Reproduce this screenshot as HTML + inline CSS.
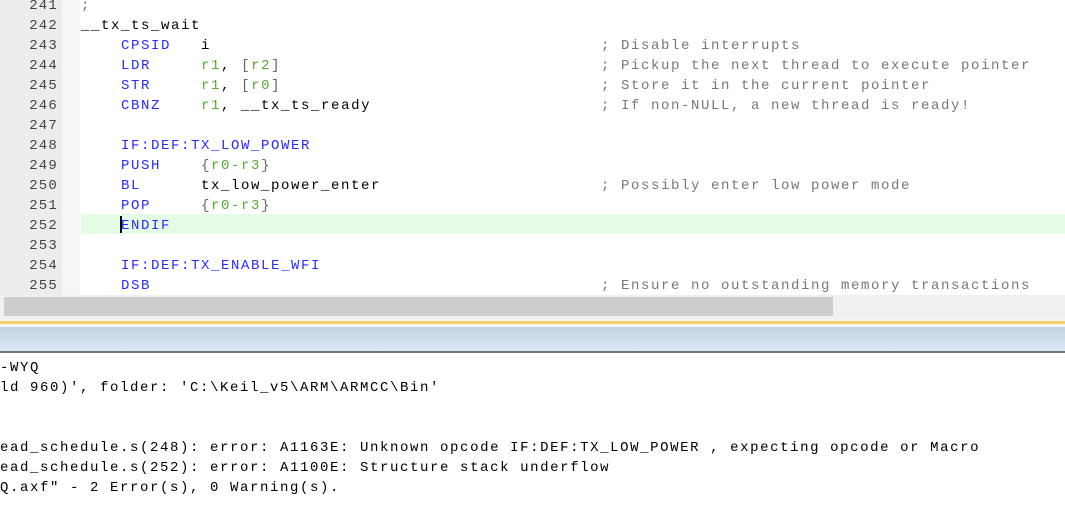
<!DOCTYPE html>
<html><head><style>
html,body{margin:0;padding:0;width:1065px;height:514px;overflow:hidden;background:#fff;position:relative}
.m{font-family:"Liberation Mono","Courier New",monospace;font-size:14px;letter-spacing:1.6px;white-space:pre;line-height:20px;position:absolute;margin-top:2px}
#gut{position:absolute;left:0;top:0;width:62px;height:295px;background:#ececec}
#gut2{position:absolute;left:62px;top:0;width:18px;height:295px;background:#f6f6f6}
.ln{position:absolute;left:0;width:58px;text-align:right;color:#444;font-family:"Liberation Mono",monospace;font-size:14px;letter-spacing:1.2px;line-height:20px;margin-top:2px}
.k{color:#2a2aff}.r{color:#5aa832}.c{color:#777}.b{color:#666}
</style></head><body>
<div id="gut"></div><div id="gut2"></div>
<div style="position:absolute;left:81px;top:214px;width:984px;height:20px;background:#e4fbe6"></div>
<div style="position:absolute;left:120px;top:216px;width:2px;height:17px;background:#000"></div>

<div class="ln" style="top:-6px">241</div>
<div class="ln" style="top:14px">242</div>
<div class="ln" style="top:34px">243</div>
<div class="ln" style="top:54px">244</div>
<div class="ln" style="top:74px">245</div>
<div class="ln" style="top:94px">246</div>
<div class="ln" style="top:114px">247</div>
<div class="ln" style="top:134px">248</div>
<div class="ln" style="top:154px">249</div>
<div class="ln" style="top:174px">250</div>
<div class="ln" style="top:194px">251</div>
<div class="ln" style="top:214px">252</div>
<div class="ln" style="top:234px">253</div>
<div class="ln" style="top:254px">254</div>
<div class="ln" style="top:274px">255</div>

<div class="m" style="left:81px;top:-6px"><span class="c">;</span></div>
<div class="m" style="left:81px;top:14px">__tx_ts_wait</div>
<div class="m" style="left:121px;top:34px"><span class="k">CPSID</span>   i</div>
<div class="m" style="left:121px;top:54px"><span class="k">LDR</span>     <span class="r">r1</span>, <span class="b">[</span><span class="r">r2</span><span class="b">]</span></div>
<div class="m" style="left:121px;top:74px"><span class="k">STR</span>     <span class="r">r1</span>, <span class="b">[</span><span class="r">r0</span><span class="b">]</span></div>
<div class="m" style="left:121px;top:94px"><span class="k">CBNZ</span>    <span class="r">r1</span>, __tx_ts_ready</div>
<div class="m" style="left:121px;top:134px"><span class="k">IF:DEF:TX_LOW_POWER</span></div>
<div class="m" style="left:121px;top:154px"><span class="k">PUSH</span>    <span class="b">{</span><span class="r">r0-r3</span><span class="b">}</span></div>
<div class="m" style="left:121px;top:174px"><span class="k">BL</span>      tx_low_power_enter</div>
<div class="m" style="left:121px;top:194px"><span class="k">POP</span>     <span class="b">{</span><span class="r">r0-r3</span><span class="b">}</span></div>
<div class="m" style="left:121px;top:214px"><span class="k">ENDIF</span></div>
<div class="m" style="left:121px;top:254px"><span class="k">IF:DEF:TX_ENABLE_WFI</span></div>
<div class="m" style="left:121px;top:274px"><span class="k">DSB</span></div>

<div class="m c" style="left:601px;top:34px">; Disable interrupts</div>
<div class="m c" style="left:601px;top:54px">; Pickup the next thread to execute pointer</div>
<div class="m c" style="left:601px;top:74px">; Store it in the current pointer</div>
<div class="m c" style="left:601px;top:94px">; If non-NULL, a new thread is ready!</div>
<div class="m c" style="left:601px;top:174px">; Possibly enter low power mode</div>
<div class="m c" style="left:601px;top:274px">; Ensure no outstanding memory transactions</div>

<div style="position:absolute;left:0;top:295px;width:1065px;height:24px;background:#f0f0f0"></div>
<div style="position:absolute;left:4px;top:297px;width:829px;height:19px;background:#cdcdcd"></div>
<div style="position:absolute;left:0;top:319px;width:1065px;height:2px;background:#f7f7f7"></div>
<div style="position:absolute;left:0;top:321px;width:1065px;height:3px;background:#f3cf6a"></div>
<div style="position:absolute;left:0;top:324px;width:1065px;height:3px;background:#f4f4f4"></div>
<div style="position:absolute;left:0;top:327px;width:1065px;height:24px;background:linear-gradient(#c3d3e4,#dbe7f3)"></div>
<div style="position:absolute;left:0;top:351px;width:1065px;height:2px;background:#777"></div>

<div class="m" style="left:0;top:356px">-WYQ</div>
<div class="m" style="left:0;top:376px">ld 960)', folder: 'C:\Keil_v5\ARM\ARMCC\Bin'</div>
<div class="m" style="left:0;top:436px">ead_schedule.s(248): error: A1163E: Unknown opcode IF:DEF:TX_LOW_POWER , expecting opcode or Macro</div>
<div class="m" style="left:0;top:456px">ead_schedule.s(252): error: A1100E: Structure stack underflow</div>
<div class="m" style="left:0;top:476px">Q.axf" - 2 Error(s), 0 Warning(s).</div>
</body></html>
